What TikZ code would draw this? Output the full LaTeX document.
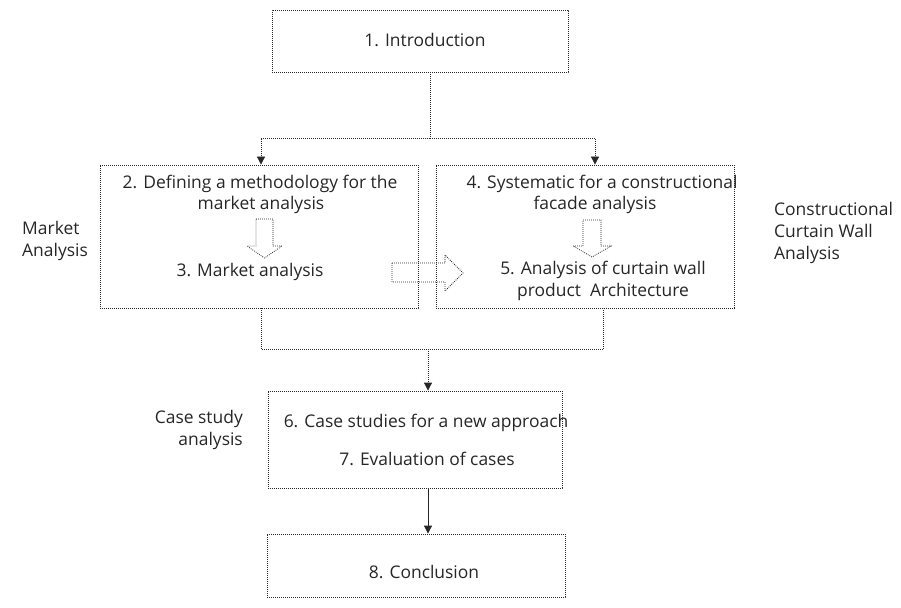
\documentclass[tikz,border=0pt]{standalone}
\usepackage{fontspec}
\setmainfont{Open Sans}
\usetikzlibrary{arrows.meta,calc}
\begin{document}
\begin{tikzpicture}[x=1bp,y=-1bp,
  dotline/.style={line width=0.8bp, dash pattern=on 0.8bp off 1.2bp, draw=black!85},
  box/.style={dotline, rectangle, inner sep=0pt},
  txt/.style={font=\fontsize{17.5}{22.5}\selectfont, text=black!85, inner sep=0pt},
  lbl/.style={txt, align=left},
  tipline/.style={-{Triangle[length=8bp,width=8bp]}},
  blockarrow/.style={dotline, line join=miter},
]
\useasboundingbox (0,0) rectangle (901,608);

% boxes
\node[box, minimum width=296bp, minimum height=62bp]  (b1) at (420,41) {};
\node[box, minimum width=318bp, minimum height=143bp] (b2) at (259,236.5) {};
\node[box, minimum width=298bp, minimum height=143bp] (b4) at (585,236.5) {};
\node[box, minimum width=294bp, minimum height=97bp]  (b6) at (415,439.5) {};
\node[box, minimum width=298bp, minimum height=63bp]  (b8) at (416,565.5) {};

% box texts
\node[txt] (t1) at (425,40) {1. Introduction};
\node[txt] (t2) at (260,184) {2. Defining a methodology for the};
\node[txt] (t2b) at (261,205) {market analysis};
\node[txt] (t3) at (250,272) {3. Market analysis};
\node[txt] (t4) at (602,184) {4. Systematic for a constructional};
\node[txt] (t4b) at (595,205) {facade analysis};
\node[txt] (t5) at (603,270) {5. Analysis of curtain wall};
\node[txt] (t5b) at (603,292) {product\ \ Architecture};
\node[txt] (t6) at (426,423) {6. Case studies for a new approach};
\node[txt] (t7) at (427,459) {7. Evaluation of cases};
\node[txt] (t8) at (424,572) {8. Conclusion};

% side labels
\node[lbl, anchor=west] (l1) at (22,241) {Market\\Analysis};
\node[lbl, anchor=west] (l2) at (774,233) {Constructional\\Curtain Wall\\Analysis};
\node[lbl, align=right, anchor=east] (l3) at (243,430) {Case study\\analysis};

% hollow block arrows
\draw[blockarrow] (256,219) -- (273,219) -- (273,246) -- (282,246) -- (264.5,258)
  -- (247,246) -- (256,246) -- cycle;
\draw[blockarrow] (583,220) -- (601,220) -- (601,246) -- (611,246) -- (592,257)
  -- (573,246) -- (583,246) -- cycle;
\draw[blockarrow] (392,263) -- (445,263) -- (445,255) -- (463,273) -- (445,291)
  -- (445,282) -- (392,282) -- cycle;

% connectors
\coordinate (j1) at (430,138);
\path (b2.north) ++(2,0) coordinate (a2);
\path (b4.north) ++(10,0) coordinate (a4);
\draw[dotline] (b1.south -| j1) -- (j1);
\draw[dotline, tipline] (j1) -| (a2);
\draw[dotline, tipline] (j1) -| (a4);

\coordinate (m) at (428,349);
\draw[dotline] ($(b2.south)+(2,0)$) |- ($(b4.south)+(18,41)$) -- ($(b4.south)+(18,0)$);
\draw[dotline, tipline] (m) -- (b6.north -| m);
\draw[line width=0.8bp, draw=black!85, tipline] (b6.south -| m) -- (b8.north -| m);
\end{tikzpicture}
\end{document}
